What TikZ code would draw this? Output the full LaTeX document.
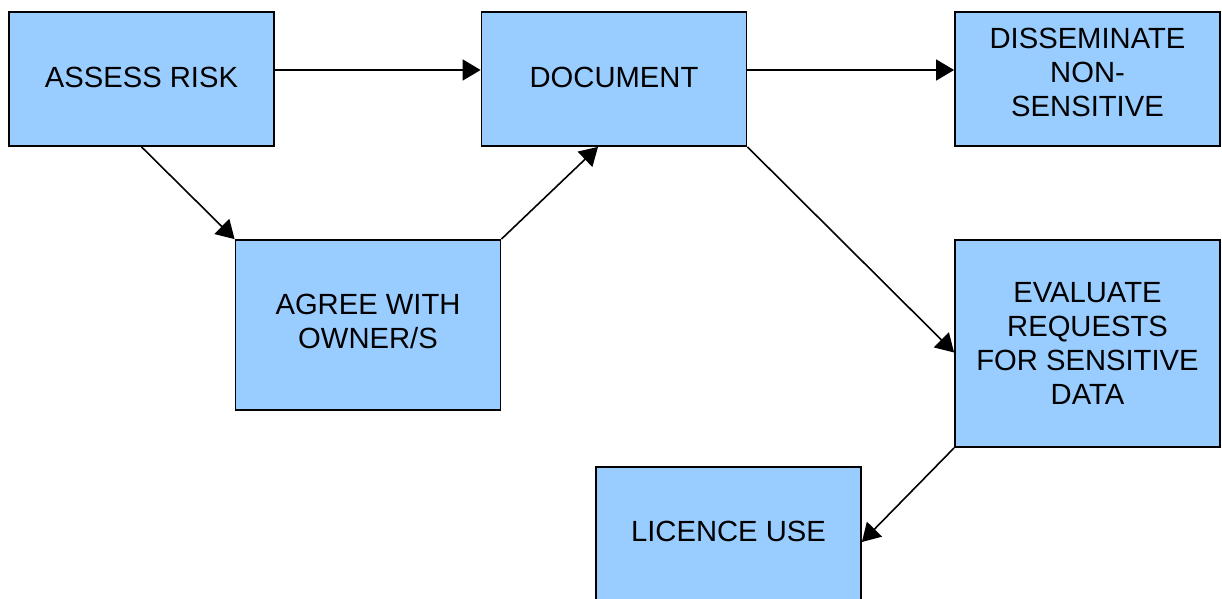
\documentclass[tikz,border=0pt]{standalone}
\usepackage{fontspec}
\setmainfont{Liberation Sans}
\usetikzlibrary{arrows.meta}
\definecolor{boxblue}{HTML}{99CCFF}
\begin{document}
\begin{tikzpicture}[x=0.5pt, y=-0.5pt,
		stage/.style={draw, line width=0.9pt, fill=boxblue, inner sep=0pt, align=center,
			minimum width=132.5pt, font=\fontsize{14.6}{17}\selectfont},
		lift/.style={text depth=#1},
		flow/.style={line width=0.8pt, -{Triangle[length=9pt, width=10.5pt]}}]
			\useasboundingbox(0, 0) rectangle (1222, 599);
			\node[stage, lift=1.5pt, minimum height=67pt](assess) at (141.5, 79){ASSESS RISK};
			\node[stage, lift=1.5pt, minimum height=67pt](doc) at (614, 79){DOCUMENT};
			\node[stage, lift=6.5pt, minimum height=67pt](dissem) at (1087.5, 79){DISSEMINATE\\NON-\\SENSITIVE};
			\node[stage, lift=4pt, minimum height=85pt](agree) at (368, 325){AGREE WITH\\OWNER/S};
			\node[stage, minimum height=103.5pt](eval) at (1087.5, 343.5){EVALUATE\\REQUESTS\\FOR SENSITIVE\\DATA};
			\node[stage, lift=2.5pt, minimum height=67pt](licence) at (728.5, 534){LICENCE USE};
			\draw[flow]([yshift=4.5pt]assess.east)--([yshift=4.5pt]doc.west);
			\draw[flow]([yshift=4.5pt]doc.east)--([yshift=4.5pt]dissem.west);
			\draw[flow](assess.south)--(agree.north west);
			\draw[flow](agree.north east)--([xshift=-8pt]doc.south);
			\draw[flow](doc.south east)--([yshift=-4.5pt]eval.west);
			\draw[flow](eval.south west)--([yshift=-4pt]licence.east);
		\end{tikzpicture}
\end{document}
